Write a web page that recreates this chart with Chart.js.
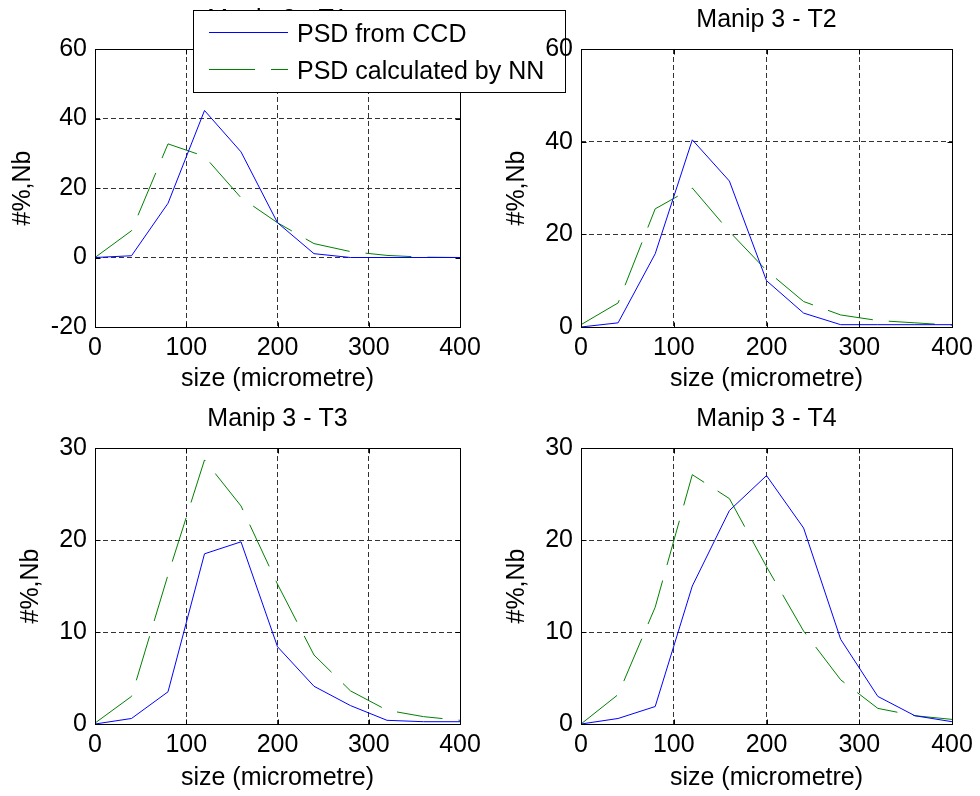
<!DOCTYPE html>
<html>
<head>
<meta charset="utf-8">
<script src="https://cdn.jsdelivr.net/npm/chart.js@4.4.1/dist/chart.umd.min.js"></script>
<style>
html, body { margin: 0; padding: 0; background: #fff; width: 980px; height: 796px; overflow: hidden; }
canvas { position: absolute; }
</style>
</head>
<body>
<canvas id="c1" width="600" height="400" style="left:0px;top:0px;"></canvas>
<canvas id="c2" width="490" height="400" style="left:490px;top:0px;"></canvas>
<canvas id="c3" width="490" height="398" style="left:0px;top:398px;"></canvas>
<canvas id="c4" width="490" height="398" style="left:490px;top:398px;"></canvas>
<script>
// ---------- data ----------
const sizes = [0, 40, 80, 120, 160, 200, 240, 280, 320, 360, 400];
const xTicks = [0, 100, 200, 300, 400];
const seriesLabels = ['PSD from CCD', 'PSD calculated by NN'];
const titles = ['Manip 3 - T1', 'Manip 3 - T2', 'Manip 3 - T3', 'Manip 3 - T4'];
const xTitle = 'size (micrometre)';
const yTitle = '#%,Nb';

const ccdT1 = [0, 0.5, 15.6, 42.3, 30.4, 10.0, 1.1, 0, 0, 0, 0];
const nnT1  = [0, 7.7, 32.7, 29.1, 17.2, 10.0, 4.0, 1.7, 0.6, 0.1, 0];
const ccdT2 = [0, 0.9, 15.8, 40.4, 31.5, 10.0, 3.0, 0.5, 0.5, 0.5, 0.5];
const nnT2  = [0.5, 5.2, 25.5, 30.0, 20.6, 12.2, 5.5, 2.6, 1.4, 0.9, 0.4];
const ccdT3 = [0, 0.6, 3.5, 18.5, 19.8, 8.4, 4.1, 2.0, 0.4, 0.25, 0.25];
const nnT3  = [0.1, 3.0, 16.2, 28.7, 23.7, 15.2, 7.5, 3.6, 1.5, 0.8, 0.4];
const ccdT4 = [0, 0.6, 1.9, 15.0, 23.2, 27.0, 21.3, 9.2, 3.0, 0.9, 0.25];
const nnT4  = [0, 3.2, 12.7, 27.1, 24.5, 17.1, 10.1, 4.8, 1.7, 0.9, 0.5];

const yTicksT1 = [-20, 0, 20, 40, 60];
const yTicksT2 = [0, 20, 40, 60];
const yTicksT3 = [0, 10, 20, 30];
const yTicksT4 = [0, 10, 20, 30];

// ---------- styling ----------
const FONT = "'Liberation Sans', Arial, Helvetica, sans-serif";
const FSIZE = 25;
const BLUE = '#0000ff';
const GREEN = '#008000';

function decorPlugin(title, withLegend) {
  return {
    id: 'decor',
    afterDraw(chart) {
      const ctx = chart.ctx;
      const a = chart.chartArea;
      ctx.save();
      // frame
      const l = Math.round(a.left) + 0.5, t = Math.round(a.top) + 0.5;
      const r = Math.round(a.right) + 0.5, b = Math.round(a.bottom) + 0.5;
      ctx.strokeStyle = '#000';
      ctx.lineWidth = 1;
      ctx.setLineDash([]);
      ctx.strokeRect(l, t, r - l, b - t);
      // inward tick marks
      const tl = 5;
      ctx.beginPath();
      chart.scales.x.ticks.forEach(tk => {
        const px = Math.round(chart.scales.x.getPixelForValue(tk.value)) + 0.5;
        ctx.moveTo(px, b); ctx.lineTo(px, b - tl);
        ctx.moveTo(px, t); ctx.lineTo(px, t + tl);
      });
      chart.scales.y.ticks.forEach(tk => {
        const py = Math.round(chart.scales.y.getPixelForValue(tk.value)) + 0.5;
        ctx.moveTo(l, py); ctx.lineTo(l + tl, py);
        ctx.moveTo(r, py); ctx.lineTo(r - tl, py);
      });
      ctx.stroke();
      // title
      ctx.fillStyle = '#000';
      ctx.font = FSIZE + 'px ' + FONT;
      ctx.textAlign = 'center';
      ctx.textBaseline = 'alphabetic';
      ctx.fillText(title, (a.left + a.right) / 2, a.top - 22);
      // legend
      if (withLegend) {
        const bx = 193.5, by = 10.5, bw = 372, bh = 82;
        ctx.fillStyle = '#fff';
        ctx.fillRect(bx, by, bw, bh);
        ctx.strokeStyle = '#000';
        ctx.strokeRect(bx, by, bw, bh);
        const rows = [32.5, 69.5];
        chart.data.datasets.forEach((ds, i) => {
          ctx.save();
          ctx.strokeStyle = ds.borderColor;
          ctx.lineWidth = ds.borderWidth;
          ctx.setLineDash(ds.borderDash || []);
          ctx.beginPath();
          ctx.moveTo(209, rows[i]);
          ctx.lineTo(288, rows[i]);
          ctx.stroke();
          ctx.restore();
          ctx.fillStyle = '#000';
          ctx.textAlign = 'left';
          ctx.textBaseline = 'alphabetic';
          ctx.fillText(ds.label, 297, rows[i] + 9);
        });
      }
      ctx.restore();
    }
  };
}

function makeChart(id, geo, title, ccd, nn, yTicks, withLegend) {
  const { ox, oy, W, H, L, T, R, B, yGap, xTitlePad } = geo;
  const font = { family: FONT, size: FSIZE };
  const yMin = yTicks[0], yMax = yTicks[yTicks.length - 1];
  const xMin = xTicks[0], xMax = xTicks[xTicks.length - 1];
  return new Chart(document.getElementById(id), {
    type: 'line',
    data: {
      datasets: [
        { label: seriesLabels[0], data: sizes.map((x, i) => ({ x, y: ccd[i] })),
          borderColor: BLUE, borderWidth: 1, pointRadius: 0, tension: 0, fill: false },
        { label: seriesLabels[1], data: sizes.map((x, i) => ({ x, y: nn[i] })),
          borderColor: GREEN, borderWidth: 1, borderDash: [46, 16], pointRadius: 0, tension: 0, fill: false }
      ]
    },
    options: {
      responsive: false,
      animation: false,
      devicePixelRatio: 1,
      events: [],
      layout: { padding: { left: 0, top: T - oy, right: (ox + W) - R, bottom: 0 } },
      plugins: { legend: { display: false }, title: { display: false }, tooltip: { enabled: false } },
      scales: {
        x: {
          type: 'linear', min: xMin, max: xMax,
          afterBuildTicks: s => { s.ticks = xTicks.map(v => ({ value: v })); },
          afterFit: s => { s.height = (oy + H) - B; },
          ticks: { font, color: '#000', padding: 6, maxRotation: 0, autoSkip: false },
          grid: { drawTicks: false, lineWidth: 1,
                  color: c => (c.tick && (c.tick.value === xMin || c.tick.value === xMax)) ? 'rgba(0,0,0,0)' : '#333' },
          border: { display: false, dash: [5, 3] },
          title: { display: true, text: xTitle, font, color: '#000', padding: { top: 0, bottom: xTitlePad } }
        },
        y: {
          type: 'linear', min: yMin, max: yMax,
          afterBuildTicks: s => { s.ticks = yTicks.map(v => ({ value: v })); },
          afterFit: s => { s.width = L - ox; },
          ticks: { font, color: '#000', padding: 8, autoSkip: false },
          grid: { drawTicks: false, lineWidth: 1,
                  color: c => (c.tick && (c.tick.value === yMin || c.tick.value === yMax)) ? 'rgba(0,0,0,0)' : '#333' },
          border: { display: false, dash: [5, 3] },
          title: { display: true, text: yTitle, font, color: '#000', padding: { top: (L - yGap) - ox - FSIZE * 0.6, bottom: 0 } }
        }
      }
    },
    plugins: [decorPlugin(title, withLegend)]
  });
}

makeChart('c1', { ox: 0, oy: 0, W: 600, H: 400, L: 95, T: 49, R: 460, B: 327, yGap: 72, xTitlePad: 6 },
  titles[0], ccdT1, nnT1, yTicksT1, true);
makeChart('c2', { ox: 490, oy: 0, W: 490, H: 400, L: 581, T: 49, R: 952, B: 327, yGap: 64, xTitlePad: 6 },
  titles[1], ccdT2, nnT2, yTicksT2, false);
makeChart('c3', { ox: 0, oy: 398, W: 490, H: 398, L: 95, T: 448, R: 460, B: 724, yGap: 64, xTitlePad: 3 },
  titles[2], ccdT3, nnT3, yTicksT3, false);
makeChart('c4', { ox: 490, oy: 398, W: 490, H: 398, L: 581, T: 448, R: 952, B: 724, yGap: 64, xTitlePad: 3 },
  titles[3], ccdT4, nnT4, yTicksT4, false);
</script>
</body>
</html>
